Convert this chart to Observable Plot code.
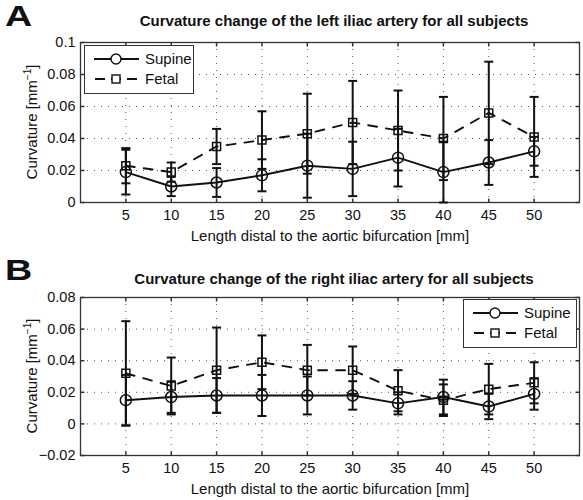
<!DOCTYPE html>
<html>
<head>
<meta charset="utf-8">
<script src="https://cdn.jsdelivr.net/npm/d3@7"></script>
<script src="https://cdn.jsdelivr.net/npm/@observablehq/plot@0.6"></script>
<style>
  html, body { margin: 0; padding: 0; background: #fff; }
  #root { position: relative; width: 583px; height: 500px; font-family: "Liberation Sans", Arial, sans-serif; color: #111; overflow: hidden; }
  .abs { position: absolute; white-space: nowrap; }
  .panel { position: absolute; left: 0; }
  .letter { font-weight: bold; font-size: 29px; transform: scaleX(1.3); transform-origin: left top; }
  .title { font-weight: bold; font-size: 15px; transform: translateX(-50%); }
  .xlabel { font-size: 15px; line-height: 17px; transform: translateX(-50%); }
  .ylabel { font-size: 15px; transform: translate(-50%, -50%) rotate(-90deg); }
  .ylabel sup { font-size: 10px; }
  .legend { background: #fff; border: 1px solid #333; font-size: 15px; }
  .legend .row { position: absolute; left: 0; display: flex; align-items: center; }
</style>
</head>
<body>
<div id="root"></div>
<script>
// ---- data ----
const lengths = [5, 10, 15, 20, 25, 30, 35, 40, 45, 50];
const xTicks = [5, 10, 15, 20, 25, 30, 35, 40, 45, 50];

const leftSupine    = [0.019, 0.010, 0.0125, 0.017, 0.023, 0.021, 0.028, 0.019, 0.025, 0.032];
const leftSupineSD  = [0.014, 0.006, 0.009, 0.010, 0.020, 0.017, 0.018, 0.019, 0.014, 0.009];
const leftFetal     = [0.023, 0.019, 0.035, 0.039, 0.043, 0.050, 0.045, 0.040, 0.056, 0.041];
const leftFetalSD   = [0.011, 0.006, 0.011, 0.018, 0.025, 0.026, 0.025, 0.026, 0.032, 0.025];
const leftYTicks    = [0, 0.02, 0.04, 0.06, 0.08, 0.1];

const rightSupine   = [0.015, 0.017, 0.018, 0.018, 0.018, 0.018, 0.013, 0.017, 0.011, 0.019];
const rightSupineSD = [0.016, 0.010, 0.011, 0.013, 0.012, 0.009, 0.007, 0.011, 0.008, 0.010];
const rightFetal    = [0.032, 0.024, 0.034, 0.039, 0.034, 0.034, 0.021, 0.015, 0.022, 0.026];
const rightFetalSD  = [0.033, 0.018, 0.027, 0.017, 0.016, 0.015, 0.013, 0.010, 0.016, 0.013];
const rightYTicks   = [-0.02, 0, 0.02, 0.04, 0.06, 0.08];

const seriesNames = ["Supine", "Fetal"];
const titles = [
  "Curvature change of the left iliac artery for all subjects",
  "Curvature change of the right iliac artery for all subjects"
];
const xLabel = "Length distal to the aortic bifurcation [mm]";

// ---- helpers ----
const INK = "#111";
const capSym = { draw(ctx) { ctx.moveTo(-4.5, 0); ctx.lineTo(4.5, 0); } };
const tickUp = { draw(ctx) { ctx.moveTo(0, 0); ctx.lineTo(0, -4); } };
const tickDown = { draw(ctx) { ctx.moveTo(0, 0); ctx.lineTo(0, 4); } };
const tickRight = { draw(ctx) { ctx.moveTo(0, 0); ctx.lineTo(4, 0); } };
const tickLeft = { draw(ctx) { ctx.moveTo(0, 0); ctx.lineTo(-4, 0); } };
const squareSym = { draw(ctx) { ctx.rect(-4, -4, 8, 8); } };
const circleSym = { draw(ctx) { ctx.moveTo(5.5, 0); ctx.arc(0, 0, 5.5, 0, 2 * Math.PI); } };
const fmt = d => d === 0 ? "0" : String(+d.toFixed(3)).replace("-", "\u2212");

function rows(values, sds) {
  return lengths.map((x, i) => ({ x, y: values[i], lo: values[i] - sds[i], hi: values[i] + sds[i] }));
}

function panel({ supine, supineSD, fetal, fetalSD, yTicks, yDomain, marginTop, marginBottom }) {
  const S = rows(supine, supineSD);
  const F = rows(fetal, fetalSD);
  const ebar = (data) => [
    Plot.ruleX(data, { x: "x", y1: "lo", y2: "hi", stroke: INK, strokeWidth: 2 }),
    Plot.dot(data, { x: "x", y: "lo", symbol: capSym, stroke: INK, strokeWidth: 2, fill: "none" }),
    Plot.dot(data, { x: "x", y: "hi", symbol: capSym, stroke: INK, strokeWidth: 2, fill: "none" })
  ];
  return Plot.plot({
    width: 583,
    height: 250,
    marginLeft: 80,
    marginRight: 4,
    marginTop,
    marginBottom,
    style: { fontFamily: "'Liberation Sans', Arial, sans-serif", fontSize: "14.5px", color: INK, background: "transparent" },
    x: { domain: [0, 55], ticks: xTicks },
    y: { domain: yDomain, ticks: yTicks },
    marks: [
      Plot.ruleX(xTicks, { x: d => d, stroke: "#555", strokeWidth: 1, strokeDasharray: "1,6" }),
      Plot.ruleY(yTicks, { y: d => d, stroke: "#555", strokeWidth: 1, strokeDasharray: "1,6" }),
      Plot.dot(xTicks, { x: d => d, frameAnchor: "bottom", symbol: tickUp, stroke: "#333", fill: "none" }),
      Plot.dot(xTicks, { x: d => d, frameAnchor: "top", symbol: tickDown, stroke: "#333", fill: "none" }),
      Plot.dot(yTicks, { y: d => d, frameAnchor: "left", symbol: tickRight, stroke: "#333", fill: "none" }),
      Plot.dot(yTicks, { y: d => d, frameAnchor: "right", symbol: tickLeft, stroke: "#333", fill: "none" }),
      Plot.frame({ stroke: "#333", strokeWidth: 1.3 }),
      Plot.axisX({ ticks: xTicks, tickSize: 0, tickPadding: 7, label: null, tickFormat: d => String(d) }),
      Plot.axisY({ ticks: yTicks, tickSize: 0, tickPadding: 5, label: null, tickFormat: fmt }),
      ...ebar(F),
      ...ebar(S),
      Plot.line(F, { x: "x", y: "y", stroke: INK, strokeWidth: 1.9, strokeDasharray: "9,9" }),
      Plot.line(S, { x: "x", y: "y", stroke: INK, strokeWidth: 1.9 }),
      Plot.dot(F, { x: "x", y: "y", symbol: squareSym, stroke: INK, strokeWidth: 1.5, fill: "none" }),
      Plot.dot(S, { x: "x", y: "y", symbol: circleSym, stroke: INK, strokeWidth: 1.5, fill: "none" })
    ]
  });
}

const root = document.getElementById("root");
function add(html, cls, style) {
  const el = document.createElement("div");
  el.className = "abs " + cls;
  el.innerHTML = html;
  Object.assign(el.style, style);
  root.appendChild(el);
  return el;
}

function legend(left, top, width, height, rowTops) {
  const box = add("", "legend", { left: left + "px", top: top + "px", width: width + "px", height: height + "px" });
  seriesNames.forEach((name, i) => {
    const row = document.createElement("div");
    row.className = "row";
    row.style.top = rowTops[i] + "px";
    row.style.left = "8px";
    const dash = i === 1 ? 'stroke-dasharray="10,6" stroke-dashoffset="-1"' : "";
    const marker = i === 0
      ? '<circle cx="23" cy="8" r="5" fill="white" stroke="#111" stroke-width="1.4"/>'
      : '<rect x="19" y="4" width="8" height="8" fill="white" stroke="#111" stroke-width="1.4"/>';
    row.innerHTML = `<svg width="48" height="16" style="display:block"><line x1="1" y1="8" x2="46" y2="8" stroke="#111" stroke-width="2" ${dash}/>${marker}</svg><span style="margin-left:4px">${name}</span>`;
    box.appendChild(row);
  });
}

// Panel A
const pa = panel({ supine: leftSupine, supineSD: leftSupineSD, fetal: leftFetal, fetalSD: leftFetalSD,
  yTicks: leftYTicks, yDomain: [0, 0.1], marginTop: 42, marginBottom: 48 });
pa.classList.add("panel"); pa.style.top = "0px";
root.appendChild(pa);

// Panel B
const pb = panel({ supine: rightSupine, supineSD: rightSupineSD, fetal: rightFetal, fetalSD: rightFetalSD,
  yTicks: rightYTicks, yDomain: [-0.02, 0.08], marginTop: 47, marginBottom: 45 });
pb.classList.add("panel"); pb.style.top = "250px";
root.appendChild(pb);

// Text
add("A", "letter", { left: "5px", top: "0px" });
add("B", "letter", { left: "5px", top: "254px" });
add(titles[0], "title", { left: "334px", top: "12px" });
add(titles[1], "title", { left: "334px", top: "270px" });
add(xLabel, "xlabel", { left: "330px", top: "227px" });
add(xLabel, "xlabel", { left: "330px", top: "480px" });
add("Curvature [mm<sup>\u22121</sup>]", "ylabel", { left: "31px", top: "122px" });
add("Curvature [mm<sup>\u22121</sup>]", "ylabel", { left: "31px", top: "376px" });

legend(84, 45, 108, 47, [4, 24]);
legend(463, 299, 112, 47, [4, 24]);
</script>
</body>
</html>
